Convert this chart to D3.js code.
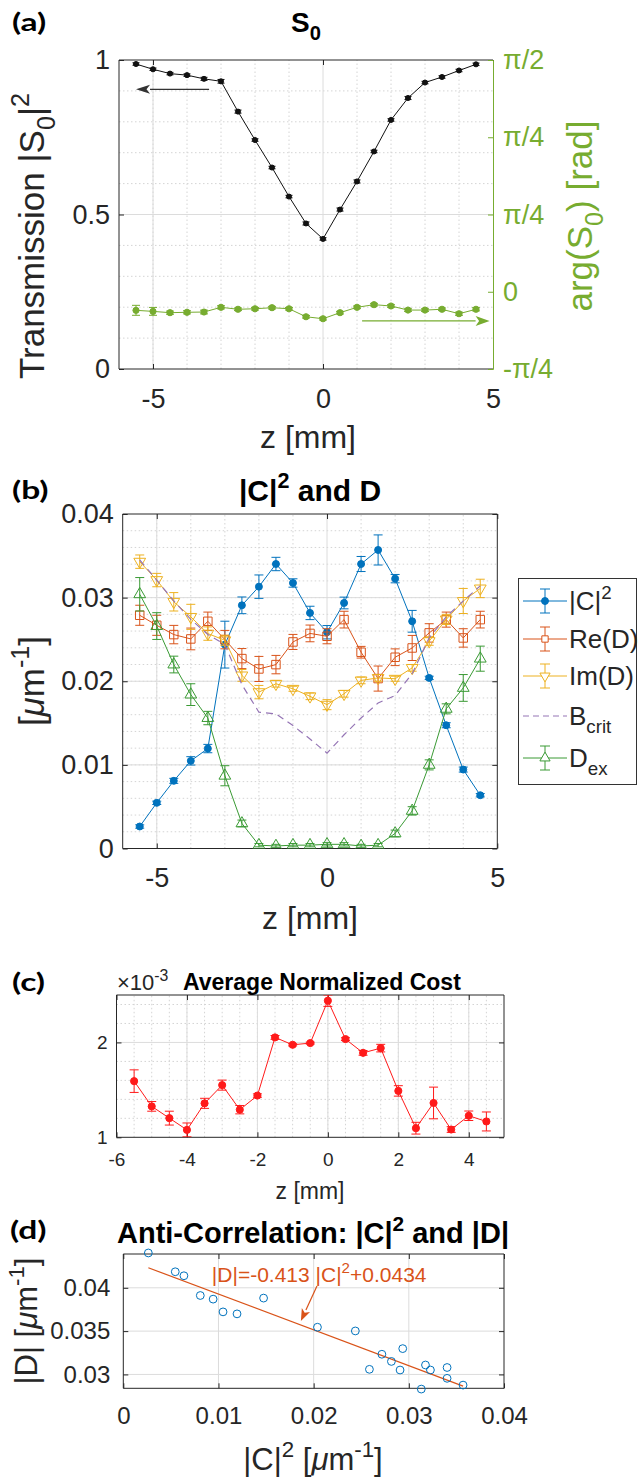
<!DOCTYPE html>
<head>
  <meta charset="utf-8">
  <script src="https://d3js.org/d3.v7.min.js"></script>
  <style>
    body { margin: 0; background: #fff; }
    svg text { font-family: "Liberation Sans", Arial, sans-serif; }
    .minor { stroke: #d4d4d4; stroke-width: 1; stroke-dasharray: 1.5,2.5; }
    .major { stroke: #dcdcdc; stroke-width: 1; }
    .tag { font-family: Lato, "Open Sans", sans-serif; font-weight: bold; }
  </style>
</head>

<body>
  <svg id="fig" width="641" height="1480"></svg>
  <script>
    // positions along the sample, shared by all panels
    var z = [-5.5, -5, -4.5, -4, -3.5, -3, -2.5, -2, -1.5, -1, -0.5, 0, 0.5, 1, 1.5, 2, 2.5, 3, 3.5, 4, 4.5];

    // (a) transmission and phase of S0
    var trans = [0.987, 0.970, 0.956, 0.951, 0.939, 0.931, 0.833, 0.741, 0.652, 0.558, 0.471, 0.421, 0.516, 0.607, 0.704, 0.806, 0.877, 0.927, 0.945, 0.966, 0.986];
    var transErr = [0.004, 0.004, 0.004, 0.004, 0.005, 0.006, 0.005, 0.004, 0.004, 0.004, 0.005, 0.004, 0.005, 0.005, 0.004, 0.004, 0.005, 0.004, 0.004, 0.004, 0.004];
    var phase = [-0.338, -0.346, -0.356, -0.353, -0.351, -0.315, -0.330, -0.326, -0.318, -0.326, -0.387, -0.402, -0.356, -0.315, -0.295, -0.305, -0.336, -0.336, -0.330, -0.364, -0.330];
    var phaseErr = [0.038, 0.030, 0.012, 0.012, 0.014, 0.012, 0.010, 0.010, 0.010, 0.010, 0.010, 0.010, 0.010, 0.010, 0.010, 0.010, 0.010, 0.010, 0.010, 0.012, 0.012];
    var phaseLabels = ["-\u03c0/4", "0", "\u03c0/4", "\u03c0/4", "\u03c0/2"];

    // (b) |C|^2 and D
    var c2 = [0.00263, 0.00546, 0.00809, 0.01048, 0.01195, 0.02438, 0.02908, 0.03131, 0.03402, 0.03175, 0.02817, 0.02586, 0.02936, 0.03402, 0.0357, 0.03227, 0.02717, 0.0204, 0.01474, 0.00944, 0.00637];
    var c2Err = [0.0002, 0.0002, 0.0003, 0.0005, 0.0005, 0.0028, 0.001, 0.0014, 0.0008, 0.0005, 0.0008, 0.0008, 0.0007, 0.0009, 0.0018, 0.0005, 0.0013, 0.0002, 0.0003, 0.0003, 0.0002];
    var reD = [0.02789, 0.02669, 0.02558, 0.02506, 0.02717, 0.02498, 0.02271, 0.02147, 0.02199, 0.0247, 0.02572, 0.02538, 0.02737, 0.02347, 0.02032, 0.02287, 0.02398, 0.02578, 0.02737, 0.02518, 0.02737];
    var reDErr = [0.0012, 0.0012, 0.0011, 0.0013, 0.0011, 0.0011, 0.0012, 0.0015, 0.0011, 0.0009, 0.0010, 0.0009, 0.0010, 0.0007, 0.0015, 0.0010, 0.0015, 0.0011, 0.0009, 0.0011, 0.0010];
    var imD = [0.0343, 0.0321, 0.0295, 0.0277, 0.0257, 0.0249, 0.0207, 0.0187, 0.0197, 0.0191, 0.0182, 0.0172, 0.0185, 0.0201, 0.0204, 0.0203, 0.0216, 0.0248, 0.0274, 0.0296, 0.0311];
    var imDErr = [0.0008, 0.0008, 0.0011, 0.0015, 0.0008, 0.0006, 0.0007, 0.0008, 0.0004, 0.0003, 0.0004, 0.0006, 0.0004, 0.0004, 0.0004, 0.0003, 0.0004, 0.0005, 0.0006, 0.0015, 0.0011];
    var bCrit = [0.0345, 0.0321, 0.0296, 0.0274, 0.0256, 0.0244, 0.0196, 0.0163, 0.0161, 0.0147, 0.0131, 0.0114, 0.0136, 0.0156, 0.0174, 0.0183, 0.0209, 0.0252, 0.0277, 0.0296, 0.0314];
    var dEx = [0.0304, 0.0266, 0.0220, 0.0184, 0.0156, 0.0087, 0.0030, 0.0004, 0.0003, 0.0004, 0.0004, 0.0005, 0.0005, 0.0003, 0.0004, 0.0018, 0.0045, 0.0100, 0.0167, 0.0192, 0.0227];
    var dExErr = [0.0020, 0.0016, 0.0010, 0.0013, 0.0008, 0.0012, 0.0004, 0.0002, 0.0002, 0.0002, 0.0002, 0.0002, 0.0002, 0.0002, 0.0002, 0.0004, 0.0005, 0.0006, 0.0006, 0.0016, 0.0015];

    // (c) average normalized cost (x 1e-3)
    var cost = [1.592, 1.326, 1.202, 1.078, 1.358, 1.55, 1.291, 1.44, 2.053, 1.975, 1.993, 2.44, 2.035, 1.89, 1.94, 1.489, 1.096, 1.362, 1.082, 1.227, 1.167];
    var costErr = [0.119, 0.051, 0.073, 0.073, 0.053, 0.053, 0.044, 0.018, 0.02, 0.012, 0.01, 0.06, 0.015, 0.025, 0.04, 0.055, 0.062, 0.167, 0.03, 0.05, 0.1];

    // (d) |D| against |C|^2, with the linear fit
    var absD = [0.04402, 0.04185, 0.03911, 0.03722, 0.03699, 0.03502, 0.03051, 0.02831, 0.02955, 0.03109, 0.0315, 0.03059, 0.03298, 0.0308, 0.02877, 0.03051, 0.03233, 0.03545, 0.03881, 0.03869, 0.04139];
    var fitSlope = -0.413;
    var fitIntercept = 0.0434;

    var svg = d3.select("#fig");
    var ink = "#262626";
    var idx = d3.range(z.length);

    // text with sub/superscripts: parts = [[text, "sup"|"sub"|"it"|undefined], ...]
    function label(x, y, parts, size, o) {
      o = o || {};
      var t = svg.append("text")
        .attr("transform", "translate(" + x + "," + y + ")" + (o.rot ? " rotate(" + o.rot + ")" : ""))
        .attr("text-anchor", o.anchor || "middle")
        .attr("font-size", size)
        .attr("fill", o.fill || ink);
      if (o.bold) t.attr("font-weight", "bold");
      var shift = 0;
      parts.forEach(function(p) {
        var s = p[1] == "sup" ? -0.42 * size : (p[1] == "sub" ? 0.3 * size : 0);
        var ts = t.append("tspan").attr("dy", s - shift).text(p[0]);
        if (s != 0) ts.attr("font-size", size * 0.72);
        if (p[1] == "it") ts.attr("font-style", "italic");
        shift = s;
      });
      return t;
    }

    function tag(x, y, s) {
      svg.append("text").attr("class", "tag")
        .attr("transform", "translate(" + x + "," + y + ") scale(1.4,1)")
        .attr("font-size", 24).attr("fill", "#000").text(s);
    }

    // grid, ticks and box for one panel
    function frame(xs, ys, o) {
      var g = svg.append("g");
      var x0 = xs.range()[0], x1 = xs.range()[1], yb = ys.range()[0], yt = ys.range()[1];
      var vl = function(v, c) { g.append("line").attr("class", c).attr("x1", xs(v)).attr("x2", xs(v)).attr("y1", yb).attr("y2", yt); };
      var hl = function(v, c) { g.append("line").attr("class", c).attr("x1", x0).attr("x2", x1).attr("y1", ys(v)).attr("y2", ys(v)); };
      (o.xMinor || []).forEach(function(v) { vl(v, "minor"); });
      (o.yMinor || []).forEach(function(v) { hl(v, "minor"); });
      (o.xMajor || []).forEach(function(v) { vl(v, "major"); });
      (o.yMajor || []).forEach(function(v) { hl(v, "major"); });

      var fmt = o.fmt || function(d) { return String(d); };
      g.append("g").attr("transform", "translate(0," + yb + ")")
        .call(d3.axisBottom(xs).tickValues(o.xTicks).tickSize(-5).tickPadding(o.xPad).tickFormat(fmt));
      g.append("g").attr("transform", "translate(" + x0 + ",0)")
        .call(d3.axisLeft(ys).tickValues(o.yTicks).tickSize(-5).tickPadding(o.yPad).tickFormat(fmt));
      g.append("g").attr("transform", "translate(0," + yt + ")")
        .call(d3.axisTop(xs).tickValues(o.xTicks).tickSize(-5).tickFormat(""));
      if (!o.noRight) {
        g.append("g").attr("transform", "translate(" + x1 + ",0)")
          .call(d3.axisRight(ys).tickValues(o.yTicks).tickSize(-5).tickFormat(""));
      }
      g.selectAll(".domain").remove();
      g.selectAll("g").attr("font-family", null).attr("font-size", o.fs).attr("color", ink);
      g.selectAll(".tick line").attr("stroke", ink);

      g.append("line").attr("x1", x0).attr("x2", x1).attr("y1", yb).attr("y2", yb).attr("stroke", ink);
      g.append("line").attr("x1", x0).attr("x2", x1).attr("y1", yt).attr("y2", yt).attr("stroke", ink);
      g.append("line").attr("x1", x0).attr("x2", x0).attr("y1", yb).attr("y2", yt).attr("stroke", ink);
      if (!o.noRight) g.append("line").attr("x1", x1).attr("x2", x1).attr("y1", yb).attr("y2", yt).attr("stroke", ink);
      return g;
    }

    function clipFor(name, xs, ys) {
      svg.append("clipPath").attr("id", name).append("rect")
        .attr("x", xs.range()[0]).attr("y", ys.range()[1])
        .attr("width", xs.range()[1] - xs.range()[0]).attr("height", ys.range()[0] - ys.range()[1]);
      return svg.append("g").attr("clip-path", "url(#" + name + ")");
    }

    // line + error bars + markers
    function series(g, xs, ys, yv, ev, color, o) {
      var s = g.append("g");
      var line = d3.line().x(function(i) { return xs(z[i]); }).y(function(i) { return ys(yv[i]); });
      s.append("path").datum(idx).attr("d", line).attr("fill", "none")
        .attr("stroke", color).attr("stroke-width", o.lw || 1)
        .attr("stroke-dasharray", o.dash || null);
      if (!ev) return s;
      var cw = o.cap / 2;
      idx.forEach(function(i) {
        var x = xs(z[i]), lo = ys(yv[i] - ev[i]), hi = ys(yv[i] + ev[i]);
        s.append("line").attr("x1", x).attr("x2", x).attr("y1", lo).attr("y2", hi).attr("stroke", color);
        s.append("line").attr("x1", x - cw).attr("x2", x + cw).attr("y1", lo).attr("y2", lo).attr("stroke", color);
        s.append("line").attr("x1", x - cw).attr("x2", x + cw).attr("y1", hi).attr("y2", hi).attr("stroke", color);
      });
      var sym = d3.symbol().type(o.shape).size(o.size);
      s.selectAll("path.mk").data(idx).join("path").attr("class", "mk")
        .attr("d", sym)
        .attr("transform", function(i) { return "translate(" + xs(z[i]) + "," + ys(yv[i]) + ")" + (o.flip ? " rotate(180)" : ""); })
        .attr("fill", o.filled ? color : "none")
        .attr("stroke", color).attr("stroke-width", 1);
      return s;
    }

    function arrow(x1, y1, x2, y2, color, len, half) {
      var a = Math.atan2(y2 - y1, x2 - x1);
      var bx = x2 - len * Math.cos(a), by = y2 - len * Math.sin(a);
      svg.append("line").attr("x1", x1).attr("y1", y1).attr("x2", bx).attr("y2", by)
        .attr("stroke", color).attr("stroke-width", 1.2);
      var px = -Math.sin(a) * half, py = Math.cos(a) * half;
      svg.append("path")
        .attr("d", "M" + x2 + "," + y2 + "L" + (bx + px) + "," + (by + py) + "L" + (bx + len * 0.25 * Math.cos(a)) + "," + (by + len * 0.25 * Math.sin(a)) + "L" + (bx - px) + "," + (by - py) + "Z")
        .attr("fill", color);
    }

    // ---------------- panel (a) ----------------
    var green = "#77AC30";
    var xa = d3.scaleLinear().domain([-6, 5]).range([119, 493]);
    var ya = d3.scaleLinear().domain([0, 1]).range([369, 60]);
    var ya2 = d3.scaleLinear().domain([-Math.PI / 4, Math.PI / 2]).range([369, 60]);
    var phaseTicks = d3.range(5).map(function(k) { return -Math.PI / 4 + k * 3 * Math.PI / 16; });

    frame(xa, ya, {
      xMinor: [-5, -4, -3, -2, -1, 1, 2, 3, 4], xMajor: [-5, 0],
      yMinor: [0.1, 0.2, 0.3, 0.4, 0.6, 0.7, 0.8, 0.9], yMajor: [0.5],
      xTicks: [-5, 0, 5], yTicks: [0, 0.5, 1], xPad: 20, yPad: 9, fs: 27, noRight: true
    });
    var ra = svg.append("g").attr("transform", "translate(493,0)")
      .call(d3.axisRight(ya2).tickValues(phaseTicks).tickSize(-5).tickPadding(10)
        .tickFormat(function(d, i) { return phaseLabels[i]; }));
    ra.attr("font-family", null).attr("font-size", 27).attr("color", green);

    var clipA = clipFor("clipA", xa, ya);
    series(clipA, xa, ya, trans, transErr, "#111", { shape: d3.symbolCircle, size: 20, filled: true, cap: 7 });
    series(clipA, xa, ya2, phase, phaseErr, green, { shape: d3.symbolCircle, size: 30, filled: true, cap: 8 });

    arrow(xa(-3.35), ya(0.905), xa(-5.5), ya(0.905), "#333", 14, 4.5);
    arrow(xa(1.15), ya2(-0.419), xa(4.9), ya2(-0.419), green, 14, 5);

    tag(12, 31, "(a)");
    label(306, 32, [["S"], ["0", "sub"]], 28, { bold: true, fill: "#000" });
    label(44, 236, [["Transmission |S"], ["0", "sub"], ["|"], ["2", "sup"]], 35, { rot: -90 });
    label(592, 216, [["arg(S"], ["0", "sub"], [") [rad]"]], 35, { rot: -90, fill: green });
    label(308, 448, [["z [mm]"]], 32);

    // ---------------- panel (b) ----------------
    var xb = d3.scaleLinear().domain([-6, 5]).range([122.7, 497.3]);
    var yb = d3.scaleLinear().domain([0, 0.04]).range([848.5, 514]);
    frame(xb, yb, {
      xMinor: [-5, -4, -3, -2, -1, 1, 2, 3, 4], xMajor: [-5, 0],
      yMinor: d3.range(0.002, 0.04, 0.002), yMajor: [0.01, 0.02, 0.03],
      xTicks: [-5, 0, 5], yTicks: [0, 0.01, 0.02, 0.03, 0.04], xPad: 19, yPad: 9, fs: 27
    });
    var cBlue = "#0072BD", cOrange = "#D95319", cYellow = "#EDB120", cPurple = "#9575b5", cGreen = "#3a9a34";
    var clipB = clipFor("clipB", xb, yb);
    series(clipB, xb, yb, c2, c2Err, cBlue, { shape: d3.symbolCircle, size: 38, filled: true, cap: 9 });
    series(clipB, xb, yb, reD, reDErr, cOrange, { shape: d3.symbolSquare, size: 72, cap: 9 });
    series(clipB, xb, yb, imD, imDErr, cYellow, { shape: d3.symbolTriangle, size: 60, flip: true, cap: 9 });
    series(clipB, xb, yb, bCrit, null, cPurple, { dash: "7,5", lw: 1.2 });
    series(clipB, xb, yb, dEx, dExErr, cGreen, { shape: d3.symbolTriangle, size: 60, cap: 9 });

    tag(12, 499, "(b)");
    label(310, 501, [["|C|"], ["2", "sup"], [" and D"]], 30, { bold: true, fill: "#000" });
    label(44, 681, [["["], ["\u03bc", "it"], ["m"], ["-1", "sup"], ["]"]], 35, { rot: -90 });
    label(310, 929, [["z [mm]"]], 32);

    // legend
    var legendItems = [
      { parts: [["|C|"], ["2", "sup"]], color: cBlue, shape: d3.symbolCircle, size: 38, filled: true },
      { parts: [["Re(D)"]], color: cOrange, shape: d3.symbolSquare, size: 40 },
      { parts: [["Im(D)"]], color: cYellow, shape: d3.symbolTriangle, size: 45, flip: true },
      { parts: [["B"], ["crit", "sub"]], color: cPurple, dash: "6,4" },
      { parts: [["D"], ["ex", "sub"]], color: cGreen, shape: d3.symbolTriangle, size: 45 }
    ];
    var legendY = [601, 639, 676, 716, 758];
    svg.append("rect").attr("x", 518.5).attr("y", 578.5).attr("width", 118).attr("height", 206)
      .attr("fill", "#fff").attr("stroke", "#333").attr("stroke-width", 1);
    legendItems.forEach(function(it, k) {
      var y = legendY[k];
      svg.append("line").attr("x1", 523).attr("x2", 567).attr("y1", y).attr("y2", y)
        .attr("stroke", it.color).attr("stroke-dasharray", it.dash || null);
      if (it.shape) {
        svg.append("line").attr("x1", 545).attr("x2", 545).attr("y1", y - 12).attr("y2", y + 12).attr("stroke", it.color);
        svg.append("line").attr("x1", 540).attr("x2", 550).attr("y1", y - 12).attr("y2", y - 12).attr("stroke", it.color);
        svg.append("line").attr("x1", 540).attr("x2", 550).attr("y1", y + 12).attr("y2", y + 12).attr("stroke", it.color);
        svg.append("path").attr("d", d3.symbol().type(it.shape).size(it.size)())
          .attr("transform", "translate(545," + y + ")" + (it.flip ? " rotate(180)" : ""))
          .attr("fill", it.filled ? it.color : "#fff").attr("stroke", it.color);
      }
      label(569, y + 9, it.parts, 26, { anchor: "start" });
    });

    // ---------------- panel (c) ----------------
    var xc = d3.scaleLinear().domain([-6, 5]).range([116.5, 504]);
    var yc = d3.scaleLinear().domain([1, 2.5]).range([1137.3, 995]);
    frame(xc, yc, {
      xMinor: d3.range(-5.5, 5, 0.5), xMajor: [-4, -2, 0, 2, 4],
      yMinor: [1.2, 1.4, 1.6, 1.8, 2.2, 2.4], yMajor: [2],
      xTicks: [-6, -4, -2, 0, 2, 4], yTicks: [1, 2], xPad: 15, yPad: 9, fs: 19
    });
    var clipC = clipFor("clipC", xc, yc);
    series(clipC, xc, yc, cost, costErr, "#ff1a1a", { shape: d3.symbolCircle, size: 40, filled: true, cap: 9 });

    tag(12, 991, "(c)");
    label(117, 990, [["\u00d710"], ["-3", "sup"]], 22, { anchor: "start" });
    label(183, 990, [["Average Normalized Cost"]], 23, { anchor: "start", bold: true, fill: "#000" });
    label(310, 1199, [["z [mm]"]], 23);

    // ---------------- panel (d) ----------------
    var xd = d3.scaleLinear().domain([0, 0.04]).range([123.3, 504]);
    var yd = d3.scaleLinear().domain([0.0284, 0.0439]).range([1388.3, 1254]);
    frame(xd, yd, {
      xMajor: [0.01, 0.02, 0.03], yMajor: [0.03, 0.035, 0.04],
      xTicks: [0, 0.01, 0.02, 0.03, 0.04], yTicks: [0.03, 0.035, 0.04], xPad: 19, yPad: 13, fs: 24
    });
    var fitX = d3.extent(c2);
    svg.append("line")
      .attr("x1", xd(fitX[0])).attr("y1", yd(fitSlope * fitX[0] + fitIntercept))
      .attr("x2", xd(fitX[1])).attr("y2", yd(fitSlope * fitX[1] + fitIntercept))
      .attr("stroke", cOrange).attr("stroke-width", 1.2);
    svg.append("g").selectAll("circle").data(idx).join("circle")
      .attr("cx", function(i) { return xd(c2[i]); })
      .attr("cy", function(i) { return yd(absD[i]); })
      .attr("r", 3.9).attr("fill", "none").attr("stroke", cBlue).attr("stroke-width", 1);

    label(xd(0.0093), yd(0.0407), [["|D|=-0.413 |C|"], ["2", "sup"], ["+0.0434"]], 21, { anchor: "start", fill: cOrange });
    arrow(xd(0.02035), yd(0.0402), xd(0.01866), yd(0.03618), cOrange, 12, 4.5);

    tag(10, 1239, "(d)");
    label(313, 1243, [["Anti-Correlation: |C|"], ["2", "sup"], [" and |D|"]], 29, { bold: true, fill: "#000" });
    label(37, 1321, [["|D| ["], ["\u03bc", "it"], ["m"], ["-1", "sup"], ["]"]], 31, { rot: -90 });
    label(313, 1470, [["|C|"], ["2", "sup"], [" ["], ["\u03bc", "it"], ["m"], ["-1", "sup"], ["]"]], 31);
  </script>
</body>
